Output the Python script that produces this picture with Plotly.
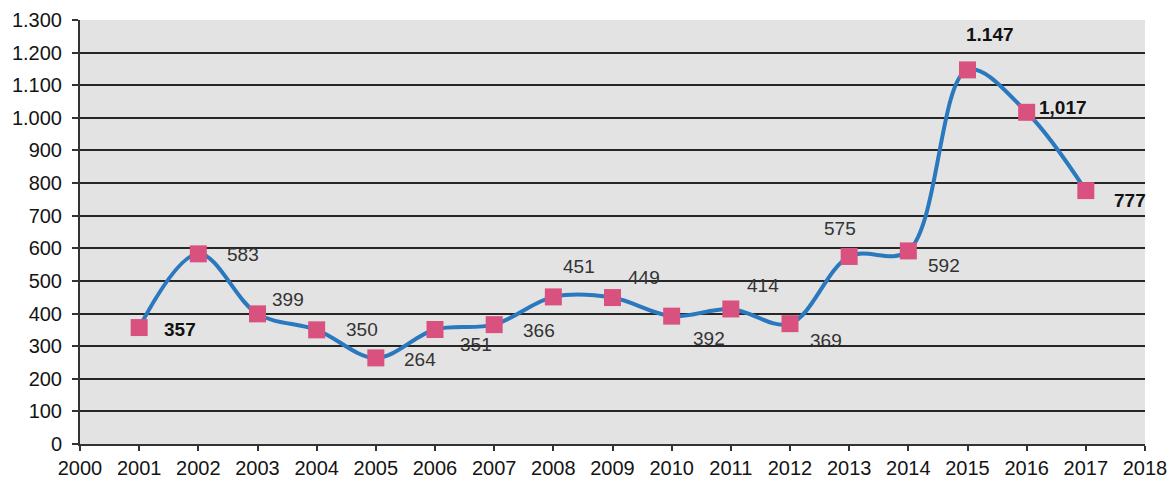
import plotly.graph_objects as go

years = [2001, 2002, 2003, 2004, 2005, 2006, 2007, 2008, 2009, 2010,
         2011, 2012, 2013, 2014, 2015, 2016, 2017]
values = [357, 583, 399, 350, 264, 351, 366, 451, 449, 392,
          414, 369, 575, 592, 1147, 1017, 777]
value_labels = ["357", "583", "399", "350", "264", "351", "366", "451", "449", "392",
                "414", "369", "575", "592", "1.147", "1,017", "777"]
y_tick_vals = list(range(0, 1301, 100))
y_tick_text = ["0", "100", "200", "300", "400", "500", "600", "700", "800", "900",
               "1.000", "1.100", "1.200", "1.300"]
x_tick_vals = list(range(2000, 2019))

# label offsets (pixels) relative to each marker: style only
label_dx = [23, 27, 12, 27, 26, 23, 27, 8, 13, 19, 14, 18, -27, 18, -4, 10, 26]
label_dy = [-2, -1, 14, 0, -2, -15, -6, 30, 20, -22, 23, -17, 28, -15, 35, 5, -10]
bold = [True, False, False, False, False, False, False, False, False, False,
        False, False, False, False, True, True, True]

fig = go.Figure()
fig.add_trace(go.Scatter(
    x=years, y=values, mode="lines+markers",
    line=dict(color="#2a78bd", width=4, shape="spline", smoothing=1.0),
    marker=dict(symbol="square", size=17, color="#d9527f"),
    hoverinfo="skip", showlegend=False,
))

for xv, yv, lab, dx, dy, b in zip(years, values, value_labels, label_dx, label_dy, bold):
    fig.add_annotation(
        x=xv, y=yv, text=(f"<b>{lab}</b>" if b else lab), showarrow=False,
        xanchor="left", yanchor="middle", xshift=dx, yshift=dy,
        font=dict(family="Liberation Sans, Arial", size=19,
                  color="#111111" if b else "#333333"),
    )

fig.update_layout(
    width=1175, height=486,
    margin=dict(l=80, r=30, t=20, b=42, autoexpand=False),
    paper_bgcolor="white", plot_bgcolor="#e3e3e3",
    font=dict(family="Liberation Sans, Arial", size=20, color="#141414"),
    xaxis=dict(range=[2000, 2018], tickvals=x_tick_vals, ticktext=[str(v) for v in x_tick_vals],
               showgrid=False, zeroline=False, showline=True, linecolor="#333333", linewidth=2,
               ticks="outside", ticklen=5, tickwidth=1.5, tickcolor="#333333",
               automargin=False),
    yaxis=dict(range=[0, 1300], tickvals=y_tick_vals, ticktext=y_tick_text,
               showgrid=True, gridcolor="#262626", gridwidth=2, zeroline=False,
               showline=True, linecolor="#333333", linewidth=2,
               ticks="outside", ticklen=6, tickwidth=2, tickcolor="#333333",
               ticklabelstandoff=6, automargin=False),
)

fig.write_html("out.html")
